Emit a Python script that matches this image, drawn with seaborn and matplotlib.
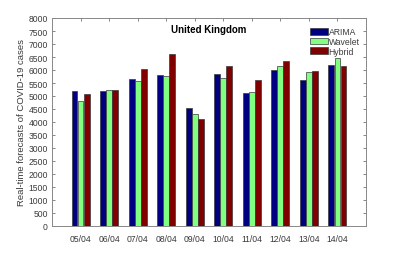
import matplotlib
matplotlib.use("Agg")
import matplotlib.pyplot as plt
import seaborn as sns
import pandas as pd

dates = ["05/04", "06/04", "07/04", "08/04", "09/04", "10/04", "11/04", "12/04", "13/04", "14/04"]
arima = [5200, 5190, 5640, 5795, 4538, 5858, 5115, 6013, 5603, 6205]
wavelet = [4796, 5240, 5564, 5770, 4300, 5705, 5141, 6167, 5910, 6450]
hybrid = [5090, 5218, 6025, 6615, 4115, 6140, 5615, 6360, 5950, 6140]
series_names = ["ARIMA", "Wavelet", "Hybrid"]
colors = ["#000080", "#80FF80", "#800000"]
yticks = list(range(0, 8001, 500))

sns.set_theme(style="white")
plt.rcParams["font.family"] = ["Liberation Sans", "DejaVu Sans"]

rows = []
for name, vals in zip(series_names, [arima, wavelet, hybrid]):
    for d, v in zip(dates, vals):
        rows.append({"date": d, "value": v, "model": name})
df = pd.DataFrame(rows)

fig = plt.figure(figsize=(4.05, 2.55), dpi=100)
ax = fig.add_axes([52/405, 1 - 227/255, (366-52)/405, (227-19)/255])

sns.barplot(data=df, x="date", y="value", hue="model", order=dates,
            hue_order=series_names, palette=colors, saturation=1, width=0.64, gap=0.03,
            edgecolor="#3a3a3a", linewidth=0.5, ax=ax, errorbar=None)

ax.set_xlim(-1, 10)
ax.set_ylim(0, 8000)
ax.set_yticks(yticks)
ax.set_yticklabels([str(t) for t in yticks])
ax.set_xlabel("")
ax.set_ylabel("Real-time forecasts of COVID-19 cases", fontsize=6.8, color="#3a3a3a", labelpad=2)
ax.tick_params(axis="both", which="both", direction="in", length=2.5, width=0.5,
               colors="#555555", labelcolor="#3a3a3a", labelsize=6.2,
               top=True, right=True, left=True, bottom=True, pad=3)
ax.tick_params(axis="x", pad=5.5)
for s in ax.spines.values():
    s.set_visible(True)
    s.set_color("#888888")
    s.set_linewidth(0.7)

ax.text(0.5, 0.947, "United Kingdom", transform=ax.transAxes, ha="center", va="center",
        fontsize=7, fontweight="bold", color="black")

handles, labels = ax.get_legend_handles_labels()
if ax.get_legend() is not None:
    ax.get_legend().remove()
ax.legend(handles, labels, loc="upper right", bbox_to_anchor=(0.98, 0.955),
          frameon=False, fontsize=6.2, handlelength=2.1, handleheight=0.8,
          labelspacing=0.08, handletextpad=0.12, borderpad=0, borderaxespad=0,
          labelcolor="#3a3a3a")

fig.savefig("out.png", dpi=100)
